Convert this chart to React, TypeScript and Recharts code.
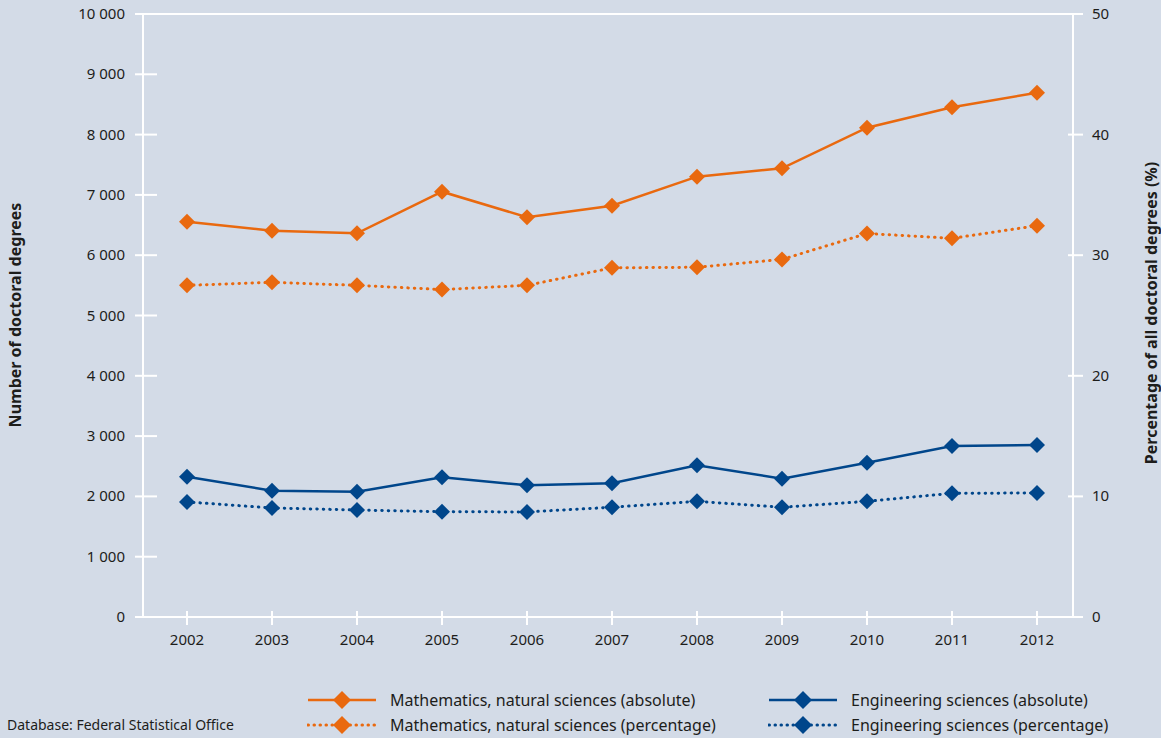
import { LineChart, Line, XAxis, YAxis } from 'recharts'

const YEARS = ['2002', '2003', '2004', '2005', '2006', '2007', '2008', '2009', '2010', '2011', '2012']
const MATH_ABS = [6556, 6406, 6363, 7053, 6629, 6821, 7302, 7441, 8114, 8453, 8695]
const MATH_PCT = [27.5, 27.75, 27.5, 27.15, 27.5, 28.95, 29.0, 29.65, 31.8, 31.4, 32.45]
const ENG_ABS = [2327, 2095, 2078, 2317, 2184, 2217, 2516, 2294, 2559, 2836, 2852]
const ENG_PCT = [9.54, 9.04, 8.87, 8.73, 8.71, 9.1, 9.59, 9.1, 9.59, 10.26, 10.28]
const LEFT_TICKS = [0, 1000, 2000, 3000, 4000, 5000, 6000, 7000, 8000, 9000, 10000]
const RIGHT_TICKS = [0, 10, 20, 30, 40, 50]

const ORANGE = '#E9690F'
const BLUE = '#00468B'
const BG = '#D3DBE7'
const TEXT = '#1d1d1b'
const FONT = '"Noto Sans", "Open Sans", sans-serif'

const data = YEARS.map((year, i) => ({
  year,
  mathAbs: MATH_ABS[i],
  mathPct: MATH_PCT[i],
  engAbs: ENG_ABS[i],
  engPct: ENG_PCT[i],
}))

function fmtThousands(v: number) {
  return v >= 1000 ? `${Math.floor(v / 1000)} ${String(v % 1000).padStart(3, '0')}` : String(v)
}

function diamond(color: string) {
  return (props: any) => {
    const { cx, cy, index } = props
    if (cx == null || cy == null) return <g key={index} />
    const r = 8
    return (
      <polygon
        key={index}
        points={`${cx},${cy - r} ${cx + r},${cy} ${cx},${cy + r} ${cx - r},${cy}`}
        fill={color}
      />
    )
  }
}

function LeftTick({ x, y, payload }: any) {
  return (
    <g>
      <line x1={x - 8} x2={x + 14} y1={y} y2={y} stroke="#fff" strokeWidth={2} />
      <text x={x - 18} y={y} dy={5} textAnchor="end" fontSize={15} fill={TEXT} fontFamily={FONT}>
        {fmtThousands(payload.value)}
      </text>
    </g>
  )
}

function RightTick({ x, y, payload }: any) {
  return (
    <g>
      <line x1={x - 5} x2={x + 10} y1={y} y2={y} stroke="#fff" strokeWidth={2} />
      <text x={x + 19} y={y} dy={5} textAnchor="start" fontSize={15} fill={TEXT} fontFamily={FONT}>
        {payload.value}
      </text>
    </g>
  )
}

function BottomTick({ x, y, payload }: any) {
  return (
    <g>
      <line x1={x} x2={x} y1={y - 6} y2={y + 8} stroke="#fff" strokeWidth={2} />
      <text x={x} y={y + 28} textAnchor="middle" fontSize={15} fill={TEXT} fontFamily={FONT}>
        {payload.value}
      </text>
    </g>
  )
}

function LegendItem({ color, dotted, label }: { color: string; dotted?: boolean; label: string }) {
  return (
    <div style={{ display: 'flex', alignItems: 'center', height: 25 }}>
      <svg width={70} height={20} style={{ marginRight: 13, flexShrink: 0 }}>
        <line
          x1={1}
          x2={69}
          y1={10}
          y2={10}
          stroke={color}
          strokeWidth={dotted ? 3 : 2.5}
          strokeDasharray={dotted ? '0.5 5.5' : undefined}
          strokeLinecap={dotted ? 'round' : 'butt'}
        />
        <polygon points="35,1 44,10 35,19 26,10" fill={color} />
      </svg>
      <span style={{ whiteSpace: 'nowrap' }}>{label}</span>
    </div>
  )
}

export default function App() {
  return (
    <div
      style={{
        position: 'fixed',
        left: 0,
        top: 0,
        width: 1161,
        height: 738,
        background: BG,
        fontFamily: FONT,
        color: TEXT,
        overflow: 'hidden',
      }}
    >
      <LineChart width={1161} height={738} data={data} margin={{ top: 14, right: 8, left: 63, bottom: 91 }}>
        <XAxis
          dataKey="year"
          scale="point"
          padding={{ left: 44, right: 36 }}
          axisLine={{ stroke: '#fff', strokeWidth: 2 }}
          tickLine={false}
          tickSize={0}
          tickMargin={0}
          height={30}
          tick={<BottomTick />}
          interval={0}
        />
        <YAxis
          yAxisId="left"
          domain={[0, 10000]}
          ticks={LEFT_TICKS}
          width={80}
          axisLine={{ stroke: '#fff', strokeWidth: 2 }}
          tickLine={false}
          tickSize={0}
          tickMargin={0}
          tick={<LeftTick />}
          interval={0}
        />
        <YAxis
          yAxisId="right"
          orientation="right"
          domain={[0, 50]}
          ticks={RIGHT_TICKS}
          width={80}
          axisLine={{ stroke: '#fff', strokeWidth: 2 }}
          tickLine={false}
          tickSize={0}
          tickMargin={0}
          tick={<RightTick />}
          interval={0}
        />
        <Line yAxisId="left" dataKey="mathAbs" stroke={ORANGE} strokeWidth={2.5} dot={diamond(ORANGE)} activeDot={false} isAnimationActive={false} />
        <Line yAxisId="right" dataKey="mathPct" stroke={ORANGE} strokeWidth={3} strokeDasharray="0.5 6" strokeLinecap="round" dot={diamond(ORANGE)} activeDot={false} isAnimationActive={false} />
        <Line yAxisId="left" dataKey="engAbs" stroke={BLUE} strokeWidth={2.5} dot={diamond(BLUE)} activeDot={false} isAnimationActive={false} />
        <Line yAxisId="right" dataKey="engPct" stroke={BLUE} strokeWidth={3} strokeDasharray="0.5 6" strokeLinecap="round" dot={diamond(BLUE)} activeDot={false} isAnimationActive={false} />
      </LineChart>

      {/* top frame line */}
      <div style={{ position: 'absolute', left: 135, top: 13, width: 948, height: 2, background: '#fff' }} />

      <svg width={1161} height={738} style={{ position: 'absolute', left: 0, top: 0, pointerEvents: 'none' }}>
        <text transform="translate(21,315) rotate(-90)" textAnchor="middle" fontSize={16} fontWeight={700} fill={TEXT} fontFamily={FONT}>
          Number of doctoral degrees
        </text>
        <text transform="translate(1157,313) rotate(-90)" textAnchor="middle" fontSize={16} fontWeight={700} fill={TEXT} fontFamily={FONT}>
          Percentage of all doctoral degrees (%)
        </text>
      </svg>

      <div style={{ position: 'absolute', left: 7, top: 715, fontSize: 14 }}>Database: Federal Statistical Office</div>

      <div style={{ position: 'absolute', left: 307, top: 687, fontSize: 16 }}>
        <LegendItem color={ORANGE} label="Mathematics, natural sciences (absolute)" />
        <LegendItem color={ORANGE} dotted label="Mathematics, natural sciences (percentage)" />
      </div>
      <div style={{ position: 'absolute', left: 768, top: 687, fontSize: 16 }}>
        <LegendItem color={BLUE} label="Engineering sciences (absolute)" />
        <LegendItem color={BLUE} dotted label="Engineering sciences (percentage)" />
      </div>
    </div>
  )
}
